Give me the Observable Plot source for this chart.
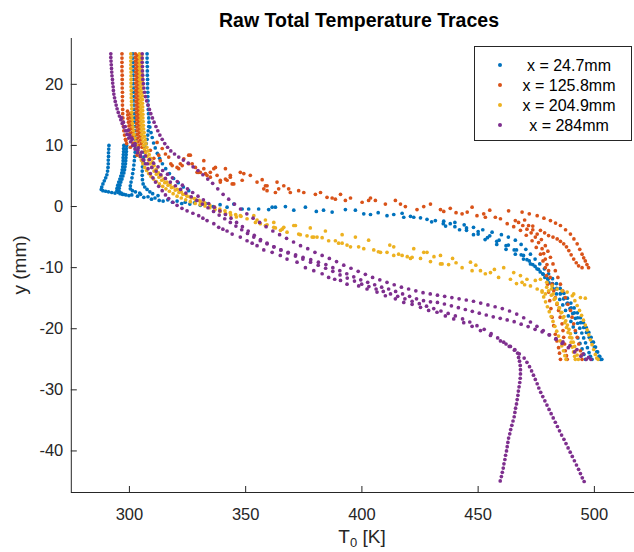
<!DOCTYPE html>
<html><head><meta charset="utf-8">
<script src="https://cdn.jsdelivr.net/npm/d3@7"></script>
<script src="https://cdn.jsdelivr.net/npm/@observablehq/plot@0.6"></script>
<style>html,body{margin:0;padding:0;background:#fff;}</style>
</head><body>
<div id="chart"></div>
<script>
const seriesNames = ["x = 24.7mm", "x = 125.8mm", "x = 204.9mm", "x = 284mm"];
const seriesColors = ["#0072BD", "#D95319", "#EDB120", "#7E2F8E"];
const xTicks = [300, 350, 400, 450, 500];
const yTicks = [-40, -30, -20, -10, 0, 10, 20];
const xDomain = [275, 525];
const yDomain = [-46.8, 27.5];

// ---- x = 24.7mm (blue) : [T0 (K), y (mm)] ----
const blueTop = [
[301.5,25],[301.5,24.3],[301.6,23.6],[301.6,22.9],[301.6,22.2],[301.7,21.5],[301.7,20.8],[301.7,20.1],[301.8,19.4],[301.8,18.7],[301.9,18],[301.9,17.3],[302,16.6],[302,15.9],[302.1,15.2],[302.1,14.5],[302.2,13.8],[302.3,13.1],[302.4,12.4],[302.5,11.7],[302.6,11],
[307.6,25],[307.6,24.3],[307.6,23.6],[307.7,22.9],[307.7,22.2],[307.7,21.5],[307.8,20.8],[307.8,20.1],[307.8,19.4],[307.9,18.7],[307.9,18],[308,17.3],[308,16.6],[308.1,15.9],[308.2,15.2],[308.3,14.5],[308.4,13.8],
[308.8,13],[309.3,12.1],[309.8,11.3],[310.4,10.4],[311.1,9.6],[312,8.7],[313,7.9],[314.2,7],[315.6,6.2],[317.2,5.4],[319,4.6],[321,3.9],[323.2,3.2],[325.5,2.6]
];
const blueHooks = [
[291.2,10],[291.1,9.4],[291,8.8],[291,8.2],[290.9,7.6],[290.9,7],[290.8,6.4],[290.6,5.8],[290.3,5.2],[289.8,4.7],[289.2,4.2],[288.6,3.7],[288.1,3.2],[287.9,2.8],[288.6,2.6],[289.8,2.5],[291,2.4],[292.4,2.3],
[297.6,10],[297.5,9.5],[297.5,9],[297.4,8.5],[297.3,8],[297.3,7.5],[297.2,7],[297.1,6.5],[296.9,6],[296.7,5.5],[296.3,5],[295.9,4.5],[295.4,4],[295,3.5],[294.7,3],[294.6,2.6],[295.2,2.3],[296,2.1],[297,2],
[298.8,10],[298.7,9.5],[298.7,9],[298.6,8.5],[298.5,8],[298.4,7.5],[298.3,7],[298.1,6.5],[297.9,6],[297.6,5.5],[297.2,5],[296.8,4.5],[296.3,4],[295.9,3.5],[295.6,3],[295.6,2.5],[296.5,2.2],[297.6,2],
[302.6,10.3],[302.6,9.6],[302.5,8.9],[302.3,8.2],[302.1,7.5],[301.9,6.8],[301.7,6.1],[301.4,5.4],[301.1,4.7],[300.7,4],[300.4,3.4],[300.4,2.9],[301.3,2.6],[302.6,2.4],
[308.3,13.1],[308.1,12.4],[307.9,11.7],[307.6,11],[307.2,10.3],[306.9,9.7],[306.5,8.9],[306.2,8.1],[305.9,7.3],[305.6,6.5],[305.5,5.8],[305.5,5.1],[305.6,4.4],[305.9,3.7],[306.6,3.2],[307.6,2.8],[308.8,2.4],[310,2.1]
];
const blueMid = [
[293.8,2.2],[298.5,1.9],[299.8,1.8],[301,1.9],[303.5,1.7],[304.4,2.2],[304.8,2],[306.2,1.5],[308,1.6],[309.5,1.2],[311,1.4],[312.3,1.8],[312.8,1],[314.5,0.9],[316.5,1.1],[318.5,0.7],[320.5,0.9],[322.5,0.5],[324,0.7],[326,0.4],[328,0.6],[330.5,0.2],[333,0.5],[336,0],[339,0.3],[342,-0.1],[344.9,0.4],[348.5,-0.4],[351.3,-0.4],[355.6,-0.4],[359.9,-0.5],[361.4,-0.1],[362.8,-0.1],[367.1,0],[370.7,-0.6],[375.7,-0.1],[380.4,-0.8],[383.5,-0.6],[387.2,-0.9],[392.9,-0.5],[397.2,-0.6],[400.8,-1.2],[403.7,-1.3],[407,-1],[410.8,-1.5],[413.7,-1.3],[417.3,-1.1],[418,-1.75],[420.9,-1.6],[422.3,-1.75],[425.2,-1.85],[428,-2.1],[431.6,-2.3],[435.2,-2.4],[438,-2.8]
];
const blueShear = [
[440,-2.6],[444,-3],[448,-3.4],[452,-3.8],[456,-4.2],[460,-4.6],[463,-5],[466,-5.5],[468.5,-6.2],[470.5,-7],[472.5,-7.8],[474.5,-8.6],[476.5,-9.4],[478.5,-10.2],[480.3,-11],[482,-11.8],[483.7,-12.6],[485.3,-13.4],[486.9,-14.2],[488.4,-15],[489.9,-15.8],[491.3,-16.6],[492.7,-17.4],[494,-18.2],[495.3,-19],[496.5,-19.8],[497.6,-20.6],[498.6,-21.4],[499.6,-22.2],[500.5,-23],[501.4,-23.8],[502.3,-24.5],[503.2,-25],
[435,-2.8],[440,-3.3],[445,-3.9],[450,-4.5],[454,-5.1],[458,-5.7],[462,-6.4],[465.5,-7.1],[468.5,-7.9],[471,-8.7],[473.5,-9.5],[476,-10.3],[478,-11.1],[480,-11.9],[482,-12.7],[483.7,-13.5],[485.3,-14.3],[486.8,-15.1],[488.2,-15.9],[489.5,-16.7],[490.7,-17.5],[491.8,-18.3],[492.8,-19.1],[493.7,-19.9],[494.6,-20.7],[495.4,-21.5],[496.2,-22.3],[497,-23.1],[497.7,-23.9],[498.3,-24.5],[499,-25],
[445,-3.5],[450,-4.1],[455,-4.8],[459,-5.5],[463,-6.3],[466.5,-7.1],[469.5,-8],[472,-8.9],[474.5,-9.8],[476.7,-10.7],[478.7,-11.6],[480.5,-12.5],[482.2,-13.4],[483.7,-14.3],[485.1,-15.2],[486.4,-16.1],[487.6,-17],[488.8,-17.9],[489.9,-18.8],[490.9,-19.7],[491.9,-20.6],[492.9,-21.5],[493.8,-22.4],[494.7,-23.3],[495.5,-24.2],[496.2,-25],
[430,-2.5],[436,-3.2],[442,-3.8],[448,-4.6],[453,-5.4],[458,-6.2],[462,-7],[466,-7.8],[469.5,-8.6],[472.5,-9.4],[475.3,-10.2],[477.8,-11],[480,-11.8],[482,-12.6],[483.8,-13.4],[485.5,-14.2],[487,-15],[488.5,-15.8],[490,-16.6],[491.4,-17.4],[492.8,-18.2],[494.1,-19],[495.4,-19.8],[496.6,-20.6],[497.8,-21.4],[499,-22.2],[500,-23],[501,-23.8],[502,-24.5],[502.6,-25]
];

// ---- x = 125.8mm (orange) ----
const orangeTop = [
[296.8,25],[296.8,24.3],[296.8,23.6],[296.8,22.9],[296.8,22.2],[296.9,21.5],[296.9,20.8],[296.9,20.1],[296.9,19.4],[297,18.7],[297,18],[297,17.3],[297,16.6],[297.1,15.9],[297.1,15.2],[297.2,14.5],[297.3,13.8],[297.4,13.1],[297.6,12.4],[297.9,11.7],[298.3,11],[298.8,10.3],
[302.6,25],[302.6,24.4],[302.6,23.8],[302.6,23.2],[302.7,22.6],[302.7,22],[302.7,21.4],[302.7,20.8],[302.7,20.2],[302.8,19.6],[302.8,19],[302.8,18.4],[302.8,17.8],[302.9,17.2],[302.9,16.6],[302.9,16],[303,15.4],[303,14.8],[303.1,14.2],[303.1,13.6],[303.2,13],[303.3,12.4],[303.4,11.8],[303.5,11.2],[303.7,10.6],[303.9,10],
[303.5,24.7],[303.5,24.1],[303.6,23.5],[303.6,22.9],[303.6,22.3],[303.6,21.7],[303.6,21.1],[303.7,20.5],[303.7,19.9],[303.7,19.3],[303.7,18.7],[303.8,18.1],[303.8,17.5],[303.8,16.9],[303.9,16.3],[303.9,15.7],[304,15.1],[304,14.5],[304.1,13.9],[304.2,13.3],[304.3,12.7],[304.4,12.1],[304.6,11.5],[304.8,10.9],[305.1,10.3],[305.4,9.7],
[299.2,15.6],[299.3,15],[299.4,14.4],[299.6,13.8],[299.8,13.2],[300,12.6],[300.3,12],[300.6,11.4],[300.4,15.2],[300.5,14.6],[300.6,14],[300.8,13.4],[301,12.8],[301.3,12.2],[301.7,11.6]
];
const orangeMid = [
[298.5,10.8],[300.4,9.7],[301.5,10.4],[303.3,8.4],[305.5,7.5],[306.8,9],[309,9.2],[310.5,7.9],[311.9,10.5],[312.6,8.4],[313.3,7.5],[314.1,9.5],[315.5,8.6],[316.9,8.1],[317.8,7],[318.4,6.7],[320.5,6.4],[321.2,6.2],[321.9,7],[322.7,6.7],[323.4,7.8],[325.5,8.4],[325.5,7],[326.2,8.4],[327,7],[328.4,6.4],[329.1,5.6],[329.8,5.6],[330.5,5.6],[332,7.5],[332,6.2],[332.7,5.4],[333.4,5.1],[334.8,4.8],[334.8,5.6],[336.3,6.2],[337,6.4],[337.7,5.1],[339.1,4.3],[339.1,4],[341.3,4.5],[341.3,6.2],[342,4.3],[343.4,5.1],[343.4,4.8],[344.2,3.7],[344.9,3.7],[347.7,5.6],[348.5,4.3],[349.2,5.4],[352,5.1],[354.9,4],[357.1,4.4],[357.8,2.9],[358.5,3.4],[359.2,3.4],[359.2,2.6],[362.8,2.3],[363.5,4],[364.2,2.9],[366.4,3.4],[368.5,2.9],[369.2,2.3],[372.8,2.6],[375,2.3],[380,2],[382.2,2.3],[385,1.5],[387.2,1.4],[388.6,1.2],[390.8,2],[392.9,1],[395.1,1.4],[400.1,0.7],[402.9,1],[403.7,1.4],[405.8,1],[410.1,0.4],[414.4,1],[416.6,0.4],[418.7,0],[423.7,-0.5],[426.6,0],[429.5,0.4],[433.8,-0.5],[435.2,-0.8],[438,-0.3],[440.5,-1],[443.1,-1.2],[445.3,-0.9],[447.4,-0.1],[449.5,-1.5],[452.4,-1.2],[453.1,-1.75],[455,-0.6],[457.4,-1.75],[459.6,-2],[463.1,-0.7]
];
const orangeS = [
[468.9,-0.9],[472,-1.2],[475.4,-1.5],[478.3,-1.9],[481.1,-2.3],[483.3,-2.7],[485.4,-3.1],[487.6,-3.8],[489.7,-4.5],[491.2,-5.3],[492.6,-6.1],[493.7,-7],[494.7,-7.8],[495.4,-8.4],[496.1,-8.9],[496.8,-9.5],[497.5,-10],
[470,-2.2],[473.5,-3.2],[476.8,-3.9],[478.6,-4.3],[480.3,-4.75],[482.2,-5],[484,-5.3],[485.4,-5.7],[486.8,-6.1],[488,-6.6],[489,-7.2],[490,-7.9],[491.1,-8.6],[492.2,-9.2],[493.2,-9.7],[494.7,-10]
];
const orangeSteep = [
[466,-2.3],[467.4,-2.6],[469.2,-3.1],[471,-3.7],[472.8,-4.3],[474.6,-5],[476,-5.9],[477.5,-6.9],[478.2,-7.7],[478.9,-8.6],[479.6,-9.5],[480.3,-10.5],[481,-11.6],[481.8,-12.7],[482.5,-13.8],[483.2,-14.9],[483.9,-16],[484.6,-17],[485.3,-18.1],[486.1,-19.2],[486.5,-20.3],[486.8,-21.4],[487.2,-22.5],[487.5,-23.6],[488,-24.4],[488.3,-25],
[471.7,-3.1],[473.5,-3.8],[475.4,-4.5],[477.2,-5.4],[478.9,-6.4],[480,-7.3],[481.1,-8.3],[482.2,-9.4],[483.2,-10.5],[484.3,-11.6],[485.4,-12.7],[486.4,-13.8],[487.5,-14.9],[488.6,-16],[489.7,-17],[490.4,-18.1],[491.1,-19.2],[491.8,-20.3],[492.6,-21.4],[493.3,-22.5],[494,-23.6],[494.4,-24.3],[494.7,-25],
[462.5,-2.8],[465.3,-3.3],[468.2,-3.9],[470.7,-4.7],[473.2,-5.6],[475,-6.7],[476.8,-7.8],[477.9,-8.9],[478.9,-10],[479.4,-11.3],[479.9,-12.7],[480.3,-14],[480.8,-15.4],[481.3,-16.7],[481.8,-18.1],[482.5,-19.5],[483.2,-20.9],[483.9,-22],[484.6,-23.1],[485,-24],[485.4,-25]
];

// ---- x = 204.9mm (yellow) ----
const yellowTop = [
[300.6,25],[300.6,24.4],[300.6,23.8],[300.6,23.2],[300.6,22.6],[300.7,22],[300.7,21.4],[300.7,20.8],[300.7,20.2],[300.7,19.6],[300.8,19],[300.8,18.4],[300.8,17.8],[300.9,17.2],[300.9,16.6],[301,16],[301,15.4],[301.1,14.8],[301.2,14.2],[301.3,13.6],[301.5,13],[301.7,12.4],[302,11.8],[302.3,11.2],[302.7,10.6],[303.1,10],[303.5,9.4],[304,8.8],[304.5,8.2],[305.1,7.6],[305.8,7],[306.6,6.4],[307.4,5.9],[308.3,5.4],[309.3,4.9],[310.4,4.5],[311.6,4.1],[312.9,3.7],[314.3,3.3],[315.7,2.9],[317.2,2.5],[318.8,2.1],[320.5,1.7],[322.3,1.4],[324.2,1.1],[326.2,0.8],[328.3,0.5],[330.4,0.3],[332.5,0.1],[334.6,-0.2],[336.8,-0.5],[339,-0.8],[341.3,-1.1],[343.6,-1.4],[346,-1.7],
[304.3,25],[304.3,24.4],[304.3,23.8],[304.3,23.2],[304.4,22.6],[304.4,22],[304.4,21.4],[304.4,20.8],[304.5,20.2],[304.5,19.6],[304.5,19],[304.5,18.4],[304.6,17.8],[304.6,17.2],[304.6,16.6],[304.7,16],[304.7,15.4],[304.8,14.8],[304.8,14.2],[304.9,13.6],[305,13],[305.1,12.4],[305.3,11.8],[305.5,11.2],[305.8,10.6],[306.1,10],[306.5,9.4],[307,8.8],[307.6,8.2],[308.2,7.6],[308.9,7],[309.7,6.4],[310.6,5.8],[311.6,5.3],[312.7,4.8],[313.9,4.3],[315.2,3.9],[316.6,3.5],[318.1,3.1],[319.7,2.7],[321.3,2.3],[323,2],[324.8,1.7],[326.6,1.4],[328.5,1.1],[330.5,0.8],[332.5,0.5],[334.6,0.2],[336.7,-0.1],[338.9,-0.4],[341.1,-0.7],[343.4,-1],[345.7,-1.3],[348,-1.6],
[305.3,24.7],[305.3,24.1],[305.3,23.5],[305.3,22.9],[305.4,22.3],[305.4,21.7],[305.4,21.1],[305.4,20.5],[305.5,19.9],[305.5,19.3],[305.5,18.7],[305.6,18.1],[305.6,17.5],[305.6,16.9],[305.7,16.3],[305.7,15.7],[305.8,15.1],[305.8,14.5],[305.9,13.9],[306,13.3],[306.1,12.7],[306.3,12.1],[306.5,11.5],[306.8,10.9],[307.1,10.3],[307.5,9.7],[308,9.1],[308.5,8.5],[309.1,7.9],[309.8,7.3],[310.6,6.7],[311.5,6.1],[312.5,5.5],[313.6,5],[314.8,4.5],[316.1,4],[317.5,3.6],[319,3.2],[320.6,2.8],[322.3,2.4],[324.1,2],[326,1.6],[328,1.3],[330,1],[332.1,0.7]
];
const yellowMid = [
[347.7,-1.5],[350.6,-2],[353.5,-1.5],[354.2,-2.6],[354.9,-2.2],[356.3,-2.8],[358.5,-2.2],[358.5,-3.1],[359.2,-3],[362.1,-2.6],[362.1,-3.4],[362.8,-3.5],[365,-3.9],[365.7,-3.7],[366.4,-3.4],[367.8,-4.2],[370.7,-3.1],[371.4,-3.1],[372.8,-4.5],[373.5,-4.6],[376.4,-4.8],[377.8,-3.5],[378.6,-5],[379.3,-5],[380.7,-5],[382.9,-5.1],[384.3,-4],[385.7,-5.6],[388.6,-5.6],[390,-6],[391.5,-4.6],[391.5,-6],[393.6,-6.3],[395.1,-6.6],[397.2,-5],[398.6,-6.6],[400.8,-6.9],[402.9,-5.5],[405.1,-7.1],[407.1,-7.4],[408,-7.5],[410.8,-7.5],[412,-6.3],[413.7,-6.6],[413.7,-8],[415.8,-7.8],[417.3,-8],[419.5,-8.2],[420.9,-8.5],[421.6,-8.3],[422.3,-6.9],[425.2,-8.5],[426.6,-7.5],[428,-7.5],[429.5,-9],[431,-8.2],[433.8,-8],[433.8,-9.4],[434.5,-9.4],[437.3,-9.5],[439,-8.5],[440.5,-9.2]
];
const yellowRight = [
[443.1,-10],[446.7,-9.1],[447.4,-10.5],[449,-9.6],[451,-10.5],[453.1,-11],[455.3,-10.8],[457,-10.3],[458.8,-11.6],[461,-10],[463.9,-11.9],[465.3,-10.8],[466.5,-12.6],[468.2,-11.3],[468.9,-12.4],[470,-12.8],[471,-11.9],[472.5,-13],[474.6,-12.1],[475.4,-13.5],[476.8,-11.9],[477.5,-13.8],[478.9,-14.3],[479.5,-12.4],[481.8,-13],[484,-13.5],[486.1,-13.8],[488.3,-14],[491.1,-14.3],[494,-14.9],[496.1,-15]
];
const yellowSteep = [
[479.5,-13.2],[480.3,-13.8],[481.5,-14.5],[482.7,-15.2],[483.9,-15.9],[485,-16.6],[486,-17.3],[486.9,-18],[487.7,-18.7],[488.4,-19.4],[489.1,-20.1],[489.7,-20.8],[490.3,-21.5],[490.9,-22.2],[491.5,-22.9],[492,-23.6],[492.6,-24.3],[493.1,-25],
[481.5,-13.5],[482.3,-14.3],[483.2,-15],[484,-15.8],[484.8,-16.6],[485.6,-17.4],[486.5,-18.2],[487.3,-19],[488,-19.8],[488.7,-20.6],[489.4,-21.4],[490,-22.2],[490.5,-23],[491,-23.8],[491.5,-24.5],[491.8,-25],
[490.5,-14.6],[491.6,-15.4],[492.6,-16.2],[493.6,-17],[494.5,-17.8],[495.3,-18.6],[496.1,-19.4],[496.9,-20.2],[497.6,-21],[498.3,-21.8],[499,-22.6],[499.7,-23.4],[500.4,-24.2],[501,-24.8],[501.6,-25],
[477.5,-14],[478.2,-14.8],[479,-15.6],[479.8,-16.4],[480.6,-17.2],[481.4,-18],[482.2,-18.8],[483,-19.6],[483.8,-20.4],[484.6,-21.2],[485.3,-22],[486,-22.8],[486.7,-23.6],[487.3,-24.4],[487.8,-25]
];

// ---- x = 284mm (purple) ----
const purpleA = [
[292,25],[292,24.4],[292.1,23.8],[292.2,23.2],[292.3,22.6],[292.4,22],[292.5,21.4],[292.7,20.8],[292.8,20.2],[293,19.6],[293.1,19],[293.3,18.4],[293.6,17.8],[293.9,17.2],[294.3,16.6],[294.7,16],[295.2,15.4],[295.7,14.8],[296.3,14.2],[296.9,13.6],[297.6,13],[298.3,12.4],[299,11.8],[299.7,11.2],[300.5,10.6],[301.4,10],[302.4,9.4],[303.5,8.8],[304.8,8.2],[306.2,7.6],[307.8,7],[309.6,6.4],[311.5,5.8],[313.5,5.2],[315.5,4.6],[317.6,4],[319.8,3.4],[322,2.8],[324.3,2.2],[326.6,1.6],[329,1],[331.4,0.4],[333.8,-0.2],[336.2,-0.8],[338.6,-1.4],[341,-2],[343.4,-2.6],[345.8,-3.2],[348.3,-3.8],[350.8,-4.4],[353.5,-5],[356.3,-5.6],[359.2,-6.1],[362.2,-6.6],[365.2,-7.1],[368.3,-7.5],[371.5,-7.9],[374.7,-8.3],[378,-8.7],[381.3,-9.1],[384.5,-9.5],[387.5,-10],[390.5,-10.5],[393.5,-11],[396.5,-11.5],[399.5,-12],[402.5,-12.4],[405.5,-12.8],[408.5,-13.2],[411.5,-13.5],[414.5,-13.9],[417.5,-14.3],[420.5,-14.7],[423.5,-15.1],[426.5,-15.4],[429.5,-15.6],[432.5,-15.7],[435.5,-15.95],[438.5,-16.25],[441.5,-16.55],[444.5,-16.85],[447.5,-17.15],[450.5,-17.45],[453.5,-17.75],[456.5,-18.05],[459.5,-18.3],[462.5,-18.55],[465.5,-18.85],[468.5,-19.25],[471.5,-19.65],[474.5,-20.1],[477.5,-20.5],[480.5,-21],[483.5,-21.6],[486.5,-22.15],[489.5,-22.75],[492.5,-23.4],[495.2,-24.1],[497.5,-24.7],[498.5,-25]
];
const purpleB = [
[299.5,12.5],[301,11.2],[302.4,10],[303.6,9.2],[304.7,8.4],[305.8,7.7],[306.9,7],[308,6.2],[309,5.4],[310.1,4.7],[311.2,4],[312.6,3.3],[314.1,2.6],[315.5,1.9],[316.9,1.3],[318.7,0.7],[320.5,0.2],[322.6,-0.3],[324.8,-0.7],[327.3,-1.1],[329.8,-1.5],[331.6,-1.9],[333.4,-2.3],[336.3,-2.8],[338.4,-3.4],[340.2,-3.7],[342,-4],[344.2,-4.5],[347.7,-5],[350.6,-5.6],[352.8,-6],[354.9,-6.4],[357.8,-7.1],[361.4,-7.5],[364.9,-8],[367.8,-8.6],[372.1,-9.1],[375.7,-10],[379.3,-10.5],[382.9,-11],[385.7,-11.6],[388.3,-11.9],[390.8,-12.1],[393.6,-12.7],[398.6,-13],[402.2,-13.5],[406.5,-14],[410.1,-14.6],[414.4,-15.1],[418,-15.7],[421.6,-16],[425.2,-16.5],[428.7,-17],[432.3,-17.3],[435.9,-17.9],[439.5,-18.4],[443.8,-19],[447.4,-19.6],[451,-20.3],[455.3,-21.1],[459.6,-22],[462,-22.5],[463.9,-22.9],[465.8,-23.4],[467,-24],[467.4,-24.7],
[467.8,-25.3],[468.1,-26],[468.2,-26.7],[468.2,-27.4],[468.1,-28.1],[467.9,-28.8],[467.6,-29.5],[467.3,-30.2],[467.1,-30.9],[466.8,-31.6],[466.5,-32.3],[466.1,-33],[465.8,-33.7],[465.5,-34.4],[465,-35.1],[464.5,-35.8],[464,-36.5],[463.6,-37.2],[463.1,-37.9],[462.8,-38.6],[462.5,-39.3],[462.2,-40],[461.8,-40.7],[461.5,-41.4],[461.1,-42.1],[460.8,-42.8],[460.4,-43.5],[460,-44.2],[459.5,-44.9]
];
const purpleC = [
[305.5,25],[305.5,24.3],[305.5,23.6],[305.6,22.9],[305.6,22.2],[305.7,21.5],[305.8,20.8],[306,20.1],[306.2,19.4],[306.5,18.7],[306.9,18],[307.4,17.3],[308,16.6],[308.6,15.9],[309.2,15.2],[309.9,14.5],[310.6,13.8],[311.4,13.1],[312.2,12.4],[313.1,11.7],[314.1,11],[315.2,10.3],[316.4,9.7],[317.8,9.1],[319.4,8.6],[321.2,8.1],[323.2,7.6],[325.3,7.1],[327.4,6.5],[329.5,5.9],[331.6,5.2],[333.7,4.5],[335.8,3.8],[338,2.9],[340.3,2],[342.7,1.2],[345.2,0.4],[347.8,-0.4],[350.5,-1.2],[353.2,-1.9],[356,-2.6],[358.8,-3.3],[361.7,-4],[364.6,-4.6],[367.6,-5.2],[370.6,-5.8],[373.6,-6.4],[376.7,-6.9],[379.8,-7.5],[382.9,-8],[386,-8.5],[389.1,-9],[392.2,-9.6],[395.3,-10.1],[398.4,-10.6],[401.5,-11.1],[404.6,-11.6],[407.7,-12],[410.8,-12.4],[413.9,-12.8],[417,-13.2],[420.1,-13.5],[423.2,-13.8],[426.3,-14.1],[429.4,-14.3],[432.5,-14.5],[435.6,-14.7],[438.7,-14.9],[441.8,-15.1],[444.9,-15.3],[448,-15.5],[451.1,-15.8],[454.2,-16.1],[457.3,-16.4],[460.4,-16.7],[463.5,-17.1],[466.6,-17.6],[469.6,-18.2],[472.5,-18.9],[475.3,-19.6],[478,-20.3],[480.7,-21],[483.4,-21.7],[486.1,-22.4],[488.8,-23.1],[491.5,-23.8],[494.2,-24.5],[496.5,-25]
];
const purpleD = [
[296.6,14.5],[297.4,13.8],[298.2,13.1],[299.1,12.4],[300.1,11.7],[301.2,11],[302.4,10.3],[303.8,9.6],[305.3,8.9],[306.9,8.3],[308.6,7.7],[310.4,7.1],[312.3,6.5],[314.3,5.9],[316.4,5.3],[318.5,4.7],[320.6,4.1],[322.8,3.5],[325,2.9],[327.2,2.3],[329.5,1.7],[331.8,1.1],[334.1,0.5],[336.5,-0.1],[338.9,-0.7],[341.3,-1.3],[343.7,-1.9],[346.1,-2.6],[348.6,-3.3],[351.1,-4],[353.7,-4.7],[356.4,-5.4],[359.2,-6],[362.1,-6.6],[365.1,-7.1],[368.2,-7.6],[371.4,-8.1],[374.6,-8.6],[377.9,-9.1],[381.2,-9.6],[384.4,-10.1],[387.5,-10.6],[390.6,-11.2],[393.7,-11.7],[396.8,-12.2],[399.9,-12.7],[403,-13.1],[406.1,-13.5],[409.2,-13.9],[412.3,-14.3],[415.4,-14.7],[418.5,-15.1],[421.6,-15.5],[424.7,-15.9],[427.8,-16.3],[430.9,-16.7],[434,-17.1],[437.1,-17.5],[440.2,-17.9],[443.3,-18.4],[446.4,-18.9],[449.5,-19.5],[452.6,-20.1],[455.6,-20.8],[458.4,-21.5],[461,-22.2],[463.4,-22.9],[465.6,-23.5],[467.7,-24.1],
[469.8,-24.8],[471,-25.5],[472.1,-26.2],[473,-26.9],[473.8,-27.6],[474.6,-28.3],[475.4,-29],[476.1,-29.7],[476.9,-30.4],[477.8,-31.1],[478.7,-31.8],[479.6,-32.5],[480.5,-33.2],[481.4,-33.9],[482.3,-34.6],[483.2,-35.3],[484.1,-36],[485,-36.7],[485.9,-37.4],[486.9,-38.1],[487.8,-38.8],[488.7,-39.5],[489.6,-40.2],[490.5,-40.9],[491.4,-41.6],[492.3,-42.3],[493.2,-43],[494,-43.7],[494.8,-44.4],[495.6,-45]
];

const seriesData = [
  [...blueTop, ...blueHooks, ...blueMid, ...blueShear],
  [...orangeTop, ...orangeMid, ...orangeS, ...orangeSteep],
  [...yellowTop, ...yellowMid, ...yellowRight, ...yellowSteep],
  [...purpleA, ...purpleB, ...purpleC, ...purpleD]
];
const rows = [];
seriesData.forEach((arr, i) => arr.forEach(([T, y]) => rows.push({series: seriesNames[i], T, y})));

const W = 634, H = 552;
const mL = 70.8, mT = 38, mB = 60, mR = -18;
const frameW = W - mR - mL, frameH = H - mT - mB;
const axisColor = "#262626";
const font = "'Liberation Sans', Arial, Helvetica, sans-serif";

const svg = Plot.plot({
  width: W, height: H,
  marginLeft: mL, marginTop: mT, marginBottom: mB, marginRight: mR,
  style: {fontFamily: font, color: axisColor, background: "#fff", overflow: "hidden"},
  x: {domain: xDomain},
  y: {domain: yDomain},
  color: {domain: seriesNames, range: seriesColors},
  marks: [
    Plot.dot(rows, {x: "T", y: "y", fill: "series", r: 1.85, stroke: null}),
    Plot.ruleY([yDomain[0]], {stroke: axisColor, strokeWidth: 1}),
    Plot.ruleX([xDomain[0]], {stroke: axisColor, strokeWidth: 1}),
    Plot.tickX(xTicks, {x: d => d, insetTop: frameH - 6, stroke: axisColor}),
    Plot.tickY(yTicks, {y: d => d, insetRight: frameW - 6, stroke: axisColor}),
    Plot.axisX(xTicks, {tickSize: 0, tickPadding: 16, tickFormat: d => String(d), label: null, fontSize: 16.5, fill: axisColor}),
    Plot.axisY(yTicks, {tickSize: 0, tickPadding: 8, tickFormat: d => String(d), label: null, fontSize: 16.5, fill: axisColor})
  ]
});
document.getElementById("chart").appendChild(svg);

const s = d3.select(svg);
s.append("text").attr("x", 359).attr("y", 27).attr("text-anchor", "middle")
  .attr("font-family", font).attr("font-weight", "bold").attr("font-size", 19.5).attr("fill", "#000")
  .text("Raw Total Temperature Traces");
const xl = s.append("text").attr("x", 362).attr("y", 543).attr("text-anchor", "middle")
  .attr("font-family", font).attr("font-size", 19).attr("fill", axisColor);
xl.append("tspan").text("T");
xl.append("tspan").attr("font-size", 13).attr("dy", 4).text("0");
xl.append("tspan").attr("dy", -4).text(" [K]");
s.append("text").attr("transform", "translate(26,265) rotate(-90)").attr("text-anchor", "middle")
  .attr("font-family", font).attr("font-size", 19).attr("fill", axisColor).text("y (mm)");

const lg = s.append("g");
lg.append("rect").attr("x", 474.5).attr("y", 46.5).attr("width", 157).attr("height", 94)
  .attr("fill", "#fff").attr("stroke", axisColor).attr("stroke-width", 1);
seriesNames.forEach((name, i) => {
  const cy = 65 + 20 * i;
  lg.append("circle").attr("cx", 500).attr("cy", cy).attr("r", 2).attr("fill", seriesColors[i]);
  lg.append("text").attr("x", 569).attr("y", cy).attr("dy", "0.35em").attr("text-anchor", "middle")
    .attr("font-family", font).attr("font-size", 16).attr("fill", "#000").text(name);
});
</script>
</body></html>
